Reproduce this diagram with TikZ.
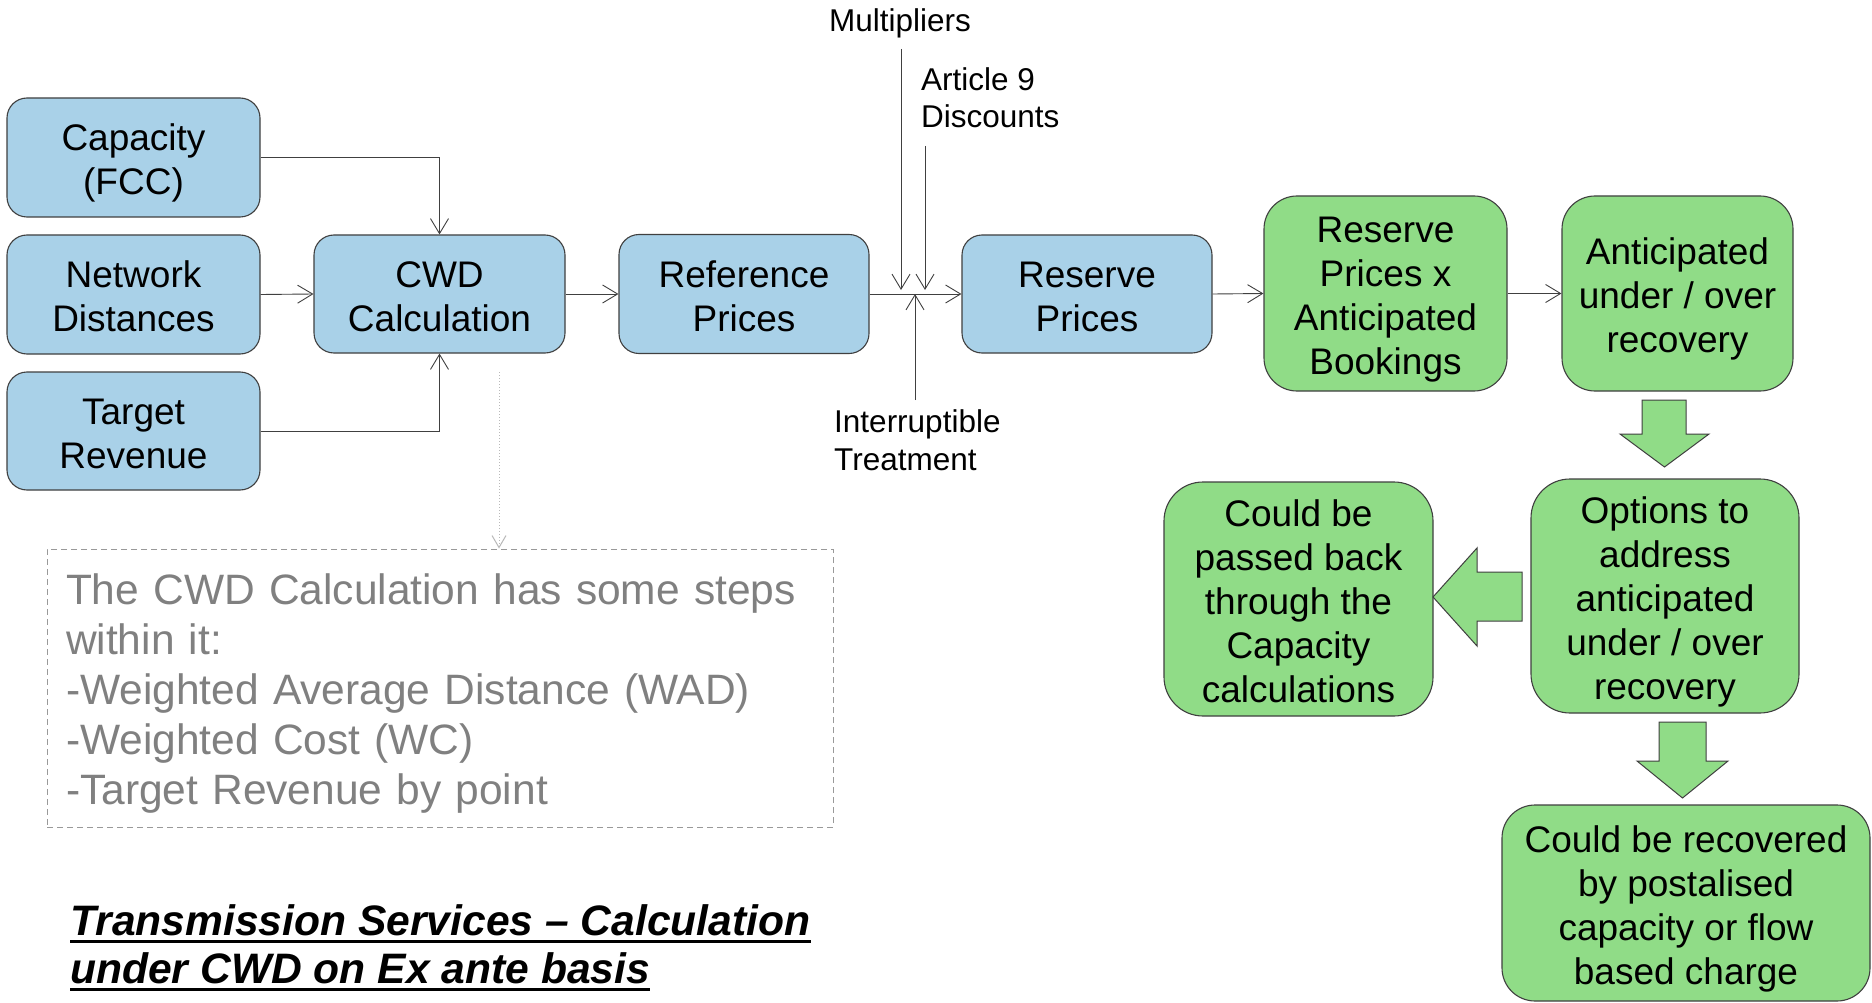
\documentclass[tikz,border=0pt]{standalone}
\usepackage{fontspec}
\setmainfont{Liberation Sans}
\usetikzlibrary{arrows.meta}
\definecolor{boxblue}{HTML}{A9D1E8}
\definecolor{boxgreen}{HTML}{90DC87}
\definecolor{edgegray}{HTML}{404040}
\definecolor{notegray}{HTML}{808080}
\newcommand\bxtop{\rule{0pt}{38pt}}
\newcommand\bxbot{\rule[-7.8pt]{0pt}{0pt}}
\newcommand\ntop{\rule{0pt}{42.5pt}}
\begin{document}
\begin{tikzpicture}[x=1pt,y=-1pt,
  box/.style={draw=edgegray, line width=1.1pt, align=center, inner sep=0pt, font=\fontsize{37}{44}\selectfont},
  bluebox/.style={box, fill=boxblue, rounded corners=20pt},
  greenbox/.style={box, fill=boxgreen},
  conn/.style={draw=edgegray, line width=0.9pt, -{Straight Barb[length=15pt,width=18pt]}},
  lbl/.style={font=\fontsize{31.5}{37.5}\selectfont, inner sep=0pt, align=left},
  blockarrow/.style={fill=boxgreen, draw=edgegray, line width=1pt},
  note/.style={draw=notegray!80, dashed, dash pattern=on 6pt off 4pt, line width=1pt, text=notegray,
    font=\fontsize{42.5}{50}\selectfont, align=left, text width=748pt, inner xsep=19pt, inner ysep=0pt, minimum height=278pt},
  titletext/.style={font=\fontsize{42.6}{50}\selectfont\bfseries\itshape, inner sep=0pt}
]
\path[use as bounding box, fill=white] (0,0) rectangle (1872,1003);

% blue boxes
\node[bluebox, minimum width=253pt, minimum height=119pt] (cap) at (133.5,157.5) {\bxtop Capacity\\(FCC)\bxbot};
\node[bluebox, minimum width=253pt, minimum height=119pt] (net) at (133.5,294.5) {\bxtop Network\\Distances\bxbot};
\node[bluebox, minimum width=253pt, minimum height=118pt] (tgt) at (133.5,431) {\bxtop Target\\Revenue\bxbot};
\node[bluebox, minimum width=251pt, minimum height=118pt] (cwd) at (439.5,294) {\bxtop CWD\\Calculation\bxbot};
\node[bluebox, minimum width=250pt, minimum height=119pt] (ref) at (744,294) {\bxtop Reference\\Prices\bxbot};
\node[bluebox, minimum width=250pt, minimum height=118pt] (res) at (1087,294) {\bxtop Reserve\\Prices\bxbot};

% green boxes
\node[greenbox, rounded corners=33pt, minimum width=243pt, minimum height=195pt] (rb) at (1385.5,293.5) {\bxtop Reserve\\Prices x\\Anticipated\\Bookings\bxbot};
\node[greenbox, rounded corners=33pt, minimum width=231pt, minimum height=195pt] (ant) at (1677.5,293.5) {\bxtop Anticipated\\under / over\\recovery\bxbot};
\node[greenbox, rounded corners=39pt, minimum width=268pt, minimum height=234pt] (opt) at (1665,596) {\bxtop Options to\\address\\anticipated\\under / over\\recovery\bxbot};
\node[greenbox, rounded corners=39pt, minimum width=269pt, minimum height=234pt] (cbp) at (1298.5,599) {\bxtop Could be\\passed back\\through the\\Capacity\\calculations\bxbot};
\node[greenbox, rounded corners=33pt, minimum width=368pt, minimum height=196pt] (fin) at (1686,903) {\bxtop Could be recovered\\by postalised\\capacity or flow\\based charge\bxbot};

% connectors
\draw[conn] (cap.east) -| (cwd.north);
\draw[conn] (net.east) -- (cwd.west);
\draw[conn] (tgt.east) -| (cwd.south);
\draw[conn] (cwd.east) -- (ref.west);
\draw[conn] (ref.east) -- (res.west);
\draw[conn] (res.east) -- (rb.west);
\draw[conn] (rb.east) -- (ant.west);

% side inputs
\node[lbl, anchor=base] (mult) at (900,32) {Multipliers};
\node[lbl, anchor=west] (art) at (921,97.5) {Article 9\\Discounts};
\node[lbl, anchor=west] (intr) at (834,440) {Interruptible\\Treatment};
\coordinate (multS) at (901,49);
\coordinate (multE) at (901,290);
\coordinate (artS) at (925,146);
\coordinate (artE) at (925,290);
\coordinate (intS) at (915,400);
\coordinate (intE) at (915,294);
\draw[conn] (multS) -- (multE);
\draw[conn] (artS) -- (artE);
\draw[conn] (intS) -- (intE);

% block arrows
\draw[blockarrow] (1642,400) -- (1686,400) -- (1686,434) -- (1709,434) -- (1664.5,467) -- (1620,434) -- (1642,434) -- cycle;
\draw[blockarrow] (1522,572) -- (1522,621) -- (1477,621) -- (1477,646) -- (1433,597) -- (1477,548) -- (1477,572) -- cycle;
\draw[blockarrow] (1659,722) -- (1706,722) -- (1706,761) -- (1728,761) -- (1682.5,798) -- (1637,761) -- (1659,761) -- cycle;

% note
\node[note] (note) at (440,688) {\ntop The CWD Calculation has some steps\\within it:\\-Weighted Average Distance (WAD)\\-Weighted Cost (WC)\\-Target Revenue by point};
\coordinate (dotS) at (499,372);
\draw[dotted, draw=gray!55, line width=1pt, -{Straight Barb[length=12pt,width=14pt]}] (dotS) -- (dotS |- note.north);

% title
\node[titletext, anchor=base west] (t1) at (70,935) {Transmission Services – Calculation};
\node[titletext, anchor=base west] (t2) at (70,983) {under CWD on Ex ante basis};
\draw[line width=2.5pt] ([yshift=-6.5pt]t1.base west) -- ([yshift=-6.5pt]t1.base east);
\draw[line width=2.5pt] ([yshift=-6.5pt]t2.base west) -- ([yshift=-6.5pt]t2.base east);
\end{tikzpicture}
\end{document}
